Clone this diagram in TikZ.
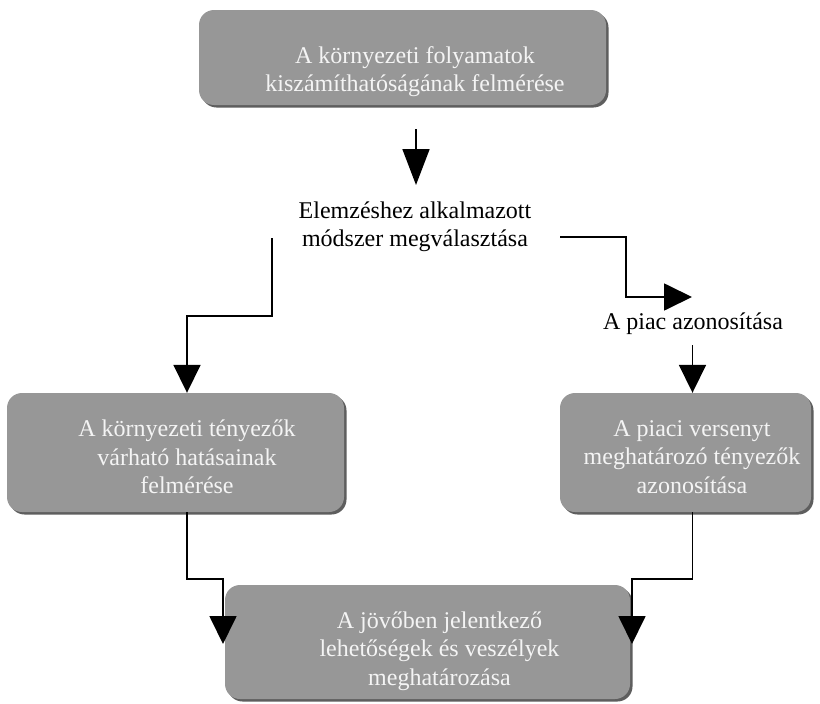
\documentclass[tikz,border=0pt]{standalone}
\usepackage{fontspec}
\setmainfont{Liberation Serif}
\usetikzlibrary{arrows.meta,shadows}
\definecolor{boxfill}{HTML}{979797}
\definecolor{boxshadow}{HTML}{5E5E5E}
\definecolor{boxtext}{HTML}{F4F4F4}
\begin{document}
\begin{tikzpicture}[x=1pt,y=-1pt,
  graybox/.style={rounded corners=15pt, fill=boxfill, draw=none, inner sep=0pt,
    drop shadow={shadow xshift=2.5pt, shadow yshift=-2.5pt, fill=boxshadow, opacity=1}},
  boxtxt/.style={inner sep=0pt, text=boxtext, align=center, font=\fontsize{24}{28.5}\selectfont},
  plain/.style={inner sep=0pt, align=center, font=\fontsize{24}{28}\selectfont},
  conn/.style={line width=1.8pt, black},
  tipA/.style={-{Triangle[width=27pt,length=36pt]}},
  tipB/.style={-{Triangle[width=27pt,length=28pt]}}]
\useasboundingbox (0,0) rectangle (820,704);
% boxes
\node[graybox, minimum width=407pt, minimum height=95pt,
  label={[boxtxt, xshift=12.5pt, yshift=-14pt]center:{A környezeti folyamatok\\kiszámíthatóságának felmérése}}]
  (top) at (402.5,57.5) {};
\node[graybox, minimum width=337pt, minimum height=119pt,
  label={[boxtxt, xshift=11.5pt, yshift=-4.5pt]center:{A környezeti tényezők\\várható hatásainak\\felmérése}}]
  (left) at (175.5,452.5) {};
\node[graybox, minimum width=251pt, minimum height=119pt,
  label={[boxtxt, xshift=6.5pt, yshift=-4.5pt]center:{A piaci versenyt\\meghatározó tényezők\\azonosítása}}]
  (right) at (685.5,452.5) {};
\node[graybox, minimum width=405pt, minimum height=114pt,
  label={[boxtxt, xshift=12pt, yshift=-9pt]center:{A jövőben jelentkező\\lehetőségek és veszélyek\\meghatározása}}]
  (bottom) at (427.5,642) {};
% plain texts
\node[plain] (elem) at (415,227) {Elemzéshez alkalmazott\\módszer megválasztása};
\node[plain] (piac) at (693,324) {A piac azonosítása};
% helper coordinates
\coordinate (a1s) at (416,129);
\coordinate (a1e) at (416,185);
\coordinate (l1) at (272,238);
\coordinate (l2) at (187,316);
\coordinate (r1) at (560,237);
\coordinate (r2) at (626,297);
\coordinate (r3) at (692,297);
\coordinate (p1) at (692.5,345);
\coordinate (lb) at (223,579);
\coordinate (lt) at (223,644);
\coordinate (rb) at (632,579);
\coordinate (rt) at (632,644);
% connectors
\draw[conn,tipA] (a1s) -- (a1e);
\draw[conn,tipB] (l1) |- (l2) -- (l2 |- left.north);
\draw[conn,tipB] (r1) -| (r2) -- (r3);
\draw[conn,tipB] (p1) -- (p1 |- right.north);
\draw[conn,tipB] (l2 |- left.south) |- (lb) -- (lt);
\draw[conn,tipB] (p1 |- right.south) |- (rb) -- (rt);
\end{tikzpicture}
\end{document}
